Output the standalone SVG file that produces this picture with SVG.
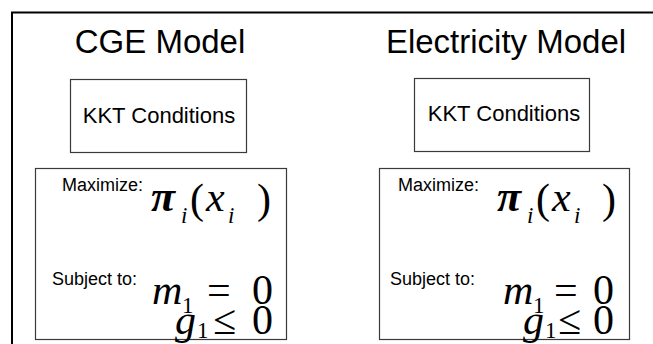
<svg xmlns="http://www.w3.org/2000/svg" width="653" height="344" viewBox="0 0 653 344">
<style>
.frame{fill:none;stroke:#000;stroke-width:2}
.box{fill:#fff;stroke:#3a3a3a;stroke-width:1.2}
.title{font-family:"Liberation Sans",Arial,sans-serif;font-size:33px;fill:#000}
.kkt{font-family:"Liberation Sans",Arial,sans-serif;font-size:22px;fill:#000}
.lbl{font-family:"Liberation Sans",Arial,sans-serif;font-size:18px;fill:#000}
.m{font-family:"Liberation Serif","Times New Roman",serif;font-size:42px;fill:#000}
.mi{font-style:italic}
.pi{font-weight:bold;font-size:44px}
.sub{font-family:"Liberation Serif","Times New Roman",serif;font-size:23px;fill:#000}
</style>
<rect width="653" height="344" fill="#fff"/>
<path class="frame" d="M12,344 V12.5 H653"/>
<g id="cge">
<text class="title" x="160" y="53" text-anchor="middle">CGE Model</text>
</g>
<g id="elec">
<text class="title" x="506" y="53" text-anchor="middle">Electricity Model</text>
</g>
<g id="kkt-cge">
<rect class="box" x="70.5" y="79.5" width="176" height="73"/>
<text class="kkt" x="159" y="123" text-anchor="middle">KKT Conditions</text>
</g>
<g id="kkt-elec">
<rect class="box" x="414.5" y="78.5" width="175" height="73"/>
<text class="kkt" x="504" y="121" text-anchor="middle">KKT Conditions</text>
</g>
<g id="opt-cge">
<rect class="box" x="35.5" y="168.5" width="251" height="171"/>
<text class="lbl" x="62" y="191">Maximize:</text>
<text class="m mi pi" x="151" y="211">π</text>
<text class="sub mi" x="181" y="223">i</text>
<text class="m" x="190" y="213">(</text>
<text class="m mi" x="206" y="211">x</text>
<text class="sub mi" x="228" y="223">i</text>
<text class="m" x="257" y="213">)</text>
<text class="lbl" x="52" y="285">Subject to:</text>
<text class="m mi" x="152" y="304">m</text>
<text class="sub" x="182" y="313">1</text>
<text class="m" x="207" y="304">=</text>
<text class="m" x="252" y="304">0</text>
<text class="m mi" x="175" y="334">g</text>
<text class="sub" x="197" y="338">1</text>
<text class="m" x="213" y="334">≤</text>
<text class="m" x="252" y="334">0</text>
</g>
<g id="opt-elec">
<rect class="box" x="379.5" y="168.5" width="250" height="171"/>
<text class="lbl" x="398" y="191">Maximize:</text>
<text class="m mi pi" x="497" y="211">π</text>
<text class="sub mi" x="527" y="223">i</text>
<text class="m" x="536" y="213">(</text>
<text class="m mi" x="552" y="211">x</text>
<text class="sub mi" x="574" y="223">i</text>
<text class="m" x="602" y="213">)</text>
<text class="lbl" x="390" y="285">Subject to:</text>
<text class="m mi" x="503" y="304">m</text>
<text class="sub" x="533" y="313">1</text>
<text class="m" x="554" y="304">=</text>
<text class="m" x="593" y="304">0</text>
<text class="m mi" x="523" y="334">g</text>
<text class="sub" x="545" y="338">1</text>
<text class="m" x="558" y="334">≤</text>
<text class="m" x="593" y="334">0</text>
</g>
</svg>
